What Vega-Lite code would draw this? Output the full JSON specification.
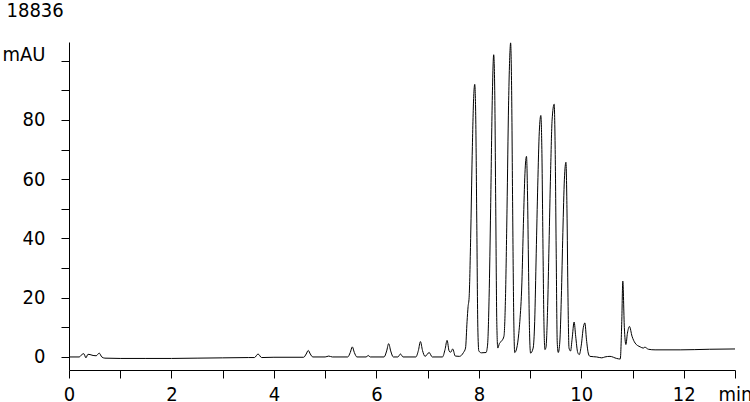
{
  "$schema": "https://vega.github.io/schema/vega-lite/v6.json",
  "width": 666,
  "height": 328,
  "autosize": {"type": "none"},
  "padding": {"left": 69, "top": 42, "right": 15, "bottom": 32},
  "background": "white",
  "data": {
    "values": [
      {"t": 0.0, "v": 0}, {"t": 0.2, "v": 0}, {"t": 0.25, "v": 0.8}, {"t": 0.29, "v": 1.1},
      {"t": 0.33, "v": -0.3}, {"t": 0.37, "v": 0.9}, {"t": 0.41, "v": 0.8}, {"t": 0.47, "v": 0.5},
      {"t": 0.53, "v": 0.4}, {"t": 0.59, "v": 1.3}, {"t": 0.64, "v": 0}, {"t": 0.7, "v": -0.4},
      {"t": 1.0, "v": -0.5}, {"t": 1.5, "v": -0.5}, {"t": 2.0, "v": -0.5}, {"t": 2.5, "v": -0.4},
      {"t": 3.0, "v": -0.3}, {"t": 3.5, "v": -0.2}, {"t": 3.62, "v": -0.2}, {"t": 3.69, "v": 1.0},
      {"t": 3.76, "v": -0.2}, {"t": 4.0, "v": -0.1}, {"t": 4.58, "v": -0.1}, {"t": 4.63, "v": 1.0},
      {"t": 4.67, "v": 2.2}, {"t": 4.71, "v": 1.0}, {"t": 4.76, "v": 0}, {"t": 5.0, "v": 0},
      {"t": 5.07, "v": 0.3}, {"t": 5.14, "v": 0}, {"t": 5.44, "v": 0}, {"t": 5.49, "v": 1.5},
      {"t": 5.53, "v": 3.4}, {"t": 5.57, "v": 1.5}, {"t": 5.62, "v": 0}, {"t": 5.8, "v": 0},
      {"t": 5.84, "v": 0.5}, {"t": 5.88, "v": 0}, {"t": 6.15, "v": 0}, {"t": 6.2, "v": 2.0},
      {"t": 6.24, "v": 4.5}, {"t": 6.28, "v": 2.0}, {"t": 6.33, "v": 0}, {"t": 6.42, "v": 0},
      {"t": 6.47, "v": 1.0}, {"t": 6.52, "v": 0}, {"t": 6.77, "v": 0}, {"t": 6.82, "v": 2.2},
      {"t": 6.86, "v": 5.2}, {"t": 6.9, "v": 2.2}, {"t": 6.95, "v": 0.2}, {"t": 7.03, "v": 1.5},
      {"t": 7.09, "v": 0}, {"t": 7.29, "v": 0}, {"t": 7.34, "v": 2.5}, {"t": 7.38, "v": 5.6},
      {"t": 7.42, "v": 2.0}, {"t": 7.45, "v": 1.6}, {"t": 7.49, "v": 2.7}, {"t": 7.54, "v": 0.3},
      {"t": 7.62, "v": 0.2}, {"t": 7.7, "v": 1.5}, {"t": 7.74, "v": 3}, {"t": 7.77, "v": 12},
      {"t": 7.79, "v": 17}, {"t": 7.81, "v": 20}, {"t": 7.84, "v": 40}, {"t": 7.87, "v": 68},
      {"t": 7.9, "v": 88}, {"t": 7.92, "v": 92}, {"t": 7.94, "v": 80}, {"t": 7.96, "v": 45},
      {"t": 7.98, "v": 10}, {"t": 8.0, "v": 2}, {"t": 8.05, "v": 1.4}, {"t": 8.14, "v": 1.5},
      {"t": 8.17, "v": 4}, {"t": 8.2, "v": 20}, {"t": 8.23, "v": 50}, {"t": 8.26, "v": 85},
      {"t": 8.29, "v": 102}, {"t": 8.31, "v": 90}, {"t": 8.33, "v": 50}, {"t": 8.35, "v": 12},
      {"t": 8.37, "v": 3}, {"t": 8.4, "v": 4.5}, {"t": 8.45, "v": 5.5}, {"t": 8.49, "v": 7},
      {"t": 8.52, "v": 20}, {"t": 8.55, "v": 50}, {"t": 8.58, "v": 85}, {"t": 8.61, "v": 104},
      {"t": 8.62, "v": 106}, {"t": 8.64, "v": 90}, {"t": 8.66, "v": 50}, {"t": 8.68, "v": 15},
      {"t": 8.7, "v": 1.5}, {"t": 8.74, "v": 3}, {"t": 8.78, "v": 8}, {"t": 8.8, "v": 12},
      {"t": 8.84, "v": 25}, {"t": 8.87, "v": 45}, {"t": 8.9, "v": 62}, {"t": 8.93, "v": 67.7},
      {"t": 8.95, "v": 55}, {"t": 8.97, "v": 30}, {"t": 8.99, "v": 8}, {"t": 9.01, "v": 1.3},
      {"t": 9.06, "v": 3}, {"t": 9.09, "v": 12}, {"t": 9.12, "v": 35}, {"t": 9.15, "v": 58},
      {"t": 9.18, "v": 76}, {"t": 9.21, "v": 81.5}, {"t": 9.23, "v": 70}, {"t": 9.25, "v": 40},
      {"t": 9.27, "v": 12}, {"t": 9.29, "v": 2.5}, {"t": 9.31, "v": 3.2}, {"t": 9.34, "v": 15},
      {"t": 9.37, "v": 38}, {"t": 9.4, "v": 62}, {"t": 9.43, "v": 80}, {"t": 9.47, "v": 85.3},
      {"t": 9.49, "v": 70}, {"t": 9.51, "v": 35}, {"t": 9.53, "v": 5}, {"t": 9.55, "v": 1.5},
      {"t": 9.58, "v": 5}, {"t": 9.61, "v": 20}, {"t": 9.64, "v": 42}, {"t": 9.67, "v": 60},
      {"t": 9.7, "v": 65.7}, {"t": 9.72, "v": 50}, {"t": 9.74, "v": 20}, {"t": 9.76, "v": 3},
      {"t": 9.79, "v": 2}, {"t": 9.82, "v": 6}, {"t": 9.86, "v": 11.8}, {"t": 9.89, "v": 7},
      {"t": 9.93, "v": 1.5}, {"t": 9.96, "v": 0.8}, {"t": 10.0, "v": 4}, {"t": 10.04, "v": 10},
      {"t": 10.07, "v": 11.5}, {"t": 10.1, "v": 6}, {"t": 10.14, "v": 1}, {"t": 10.17, "v": 0.2},
      {"t": 10.3, "v": 0}, {"t": 10.4, "v": -0.3}, {"t": 10.46, "v": 0}, {"t": 10.56, "v": 0.2},
      {"t": 10.69, "v": -0.5}, {"t": 10.76, "v": -0.7}, {"t": 10.79, "v": 12}, {"t": 10.81, "v": 25.6},
      {"t": 10.84, "v": 10}, {"t": 10.87, "v": 4.2}, {"t": 10.9, "v": 8}, {"t": 10.94, "v": 10.3},
      {"t": 10.99, "v": 7}, {"t": 11.05, "v": 4.7}, {"t": 11.15, "v": 3.4}, {"t": 11.21, "v": 3.0},
      {"t": 11.24, "v": 3.3}, {"t": 11.31, "v": 2.6}, {"t": 11.44, "v": 2.4}, {"t": 11.93, "v": 2.4},
      {"t": 12.5, "v": 2.6}, {"t": 13.0, "v": 2.7}
    ]
  },
  "mark": {"type": "line", "interpolate": "monotone", "color": "black", "strokeWidth": 1, "clip": true},
  "encoding": {
    "x": {
      "field": "t",
      "type": "quantitative",
      "scale": {"domain": [0, 13], "nice": false, "zero": false},
      "axis": {
        "title": null,
        "values": [0, 1, 2, 3, 4, 5, 6, 7, 8, 9, 10, 11, 12, 13],
        "labelExpr": "datum.value == 13 ? 'min' : (datum.value % 2 == 0 ? datum.label : '')",
        "labelPadding": 6,
        "labelFlush": false,
        "labelOverlap": false
      }
    },
    "y": {
      "field": "v",
      "type": "quantitative",
      "scale": {"domain": [-4.4, 106.3], "nice": false, "zero": false},
      "axis": {
        "title": "18836",
        "titleAngle": 0,
        "titleAlign": "left",
        "titleBaseline": "alphabetic",
        "titleX": -63,
        "titleY": -26,
        "titleFont": "DejaVu Sans Condensed, Liberation Sans, sans-serif",
        "titleFontSize": 20,
        "titleFontWeight": "normal",
        "titleColor": "black",
        "values": [0, 10, 20, 30, 40, 50, 60, 70, 80, 90, 100],
        "labelExpr": "datum.value == 100 ? 'mAU' : (datum.value % 20 == 0 ? datum.label : '')",
        "labelBaseline": {"condition": {"test": "datum.value == 100", "value": "alphabetic"}, "value": "middle"},
        "labelPadding": 16,
        "labelFlush": false,
        "labelOverlap": false
      }
    }
  },
  "config": {
    "view": {"stroke": null},
    "axis": {
      "grid": false,
      "domainColor": "black",
      "domainWidth": 1,
      "tickColor": "black",
      "tickSize": 8,
      "tickWidth": 1,
      "labelColor": "black",
      "labelFont": "DejaVu Sans Condensed, Liberation Sans, sans-serif",
      "labelFontSize": 20
    }
  }
}
